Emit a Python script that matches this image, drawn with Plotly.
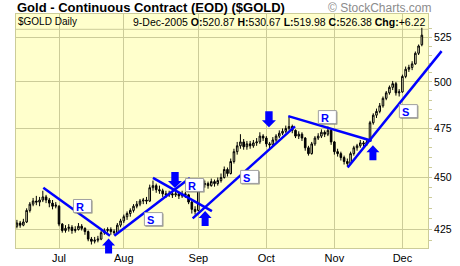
import numpy as np
import pandas as pd
import plotly.graph_objects as go

# ---------------- data ----------------
holidays = ['2005-07-04', '2005-09-05', '2005-11-24']
dates = [d.strftime('%Y-%m-%d') for d in pd.bdate_range('2005-06-14', '2005-12-09')
         if d.strftime('%Y-%m-%d') not in holidays]

opens = [426.5, 428, 427, 428.5, 434, 437, 438.5, 438, 439, 440.5,
         439, 437.5, 436, 436, 427.5, 424.5, 425.5, 426, 424.5, 425,
         426.5, 425.5, 424, 420.5, 419.5, 420, 420.5, 423.5, 424.5, 425,
         424, 423.5, 427, 429, 431, 432.5, 434, 436, 437, 438.5,
         439, 438.5, 445, 446, 444, 443.5, 442, 441.5, 442, 441.5,
         442, 441, 442, 441.5, 438, 434.5, 434, 445, 446.5, 447,
         446, 448, 447, 448.5, 450, 454, 452, 458, 463, 466,
         468, 465.5, 467, 466, 467.5, 468, 471, 470, 467, 466.5,
         469, 471, 472.5, 473.5, 475, 476, 474, 471, 472, 470,
         465, 462, 467, 470, 471, 473, 472, 474, 468, 463,
         462, 460, 458, 457, 462, 465, 466, 467.5, 467, 468.5,
         478, 482, 484, 487, 491, 494, 497, 499, 494, 494.5,
         503, 507, 508, 510, 516, 520.87]
highs = [429.5, 429, 430, 435, 438, 440, 441, 440.5, 443.5, 441.5,
         440, 439, 438, 436.5, 428, 427, 427.5, 427, 426.5, 428,
         427.5, 426, 424.5, 421.5, 421.5, 422, 424.5, 425.5, 426, 426,
         425, 428, 430, 432, 433.5, 435, 437, 438.5, 439.5, 440,
         440.5, 446.5, 448.5, 447, 446, 444.5, 443.5, 443.5, 443, 443.5,
         443, 443.5, 443, 442, 438.5, 436, 446, 448, 448.5, 448,
         449.5, 449, 450, 452, 455.5, 455, 459.5, 464.5, 468, 472,
         469.5, 468.5, 468.5, 469, 470, 473, 472, 471, 468, 470.5,
         472, 474, 475, 476.5, 481, 477, 474.5, 473.5, 473, 470.5,
         466, 468, 471, 472.5, 474.5, 474, 476, 474.5, 468.5, 464.5,
         463, 461, 459.5, 463, 466, 467, 469, 468.5, 469.5, 479,
         483, 485.5, 488.5, 492, 495, 498, 500.5, 500, 496, 504,
         508.5, 509.5, 511.5, 517, 521, 530.67]
lows = [425.5, 425.8, 426.5, 428, 433, 436, 436.5, 436, 438, 437.5,
        435.5, 434.5, 435, 426.5, 423.5, 423.5, 424, 423, 423.5, 424.5,
        424.5, 422.5, 419.5, 418, 418.5, 419, 420, 422.5, 423.5, 422.5,
        422.5, 423, 426, 428, 429.5, 431, 433, 435, 436, 437,
        437, 438, 443.5, 442.5, 442, 440.5, 440, 440.5, 440, 440.5,
        439.5, 440, 440, 437, 432.5, 432, 433.5, 443.5, 445, 444.5,
        445.5, 445.5, 446, 447.5, 449.5, 450.5, 451.5, 457, 461.5, 464.5,
        464, 464, 464.5, 465, 466, 467, 468.5, 465.5, 464.5, 466,
        468, 470, 471.5, 472.5, 474, 472.5, 470, 469.5, 468.5, 463.5,
        461, 461.5, 466, 469, 470, 470.5, 471, 466.5, 461.5, 460.5,
        458.5, 456.5, 455.5, 456.5, 461, 463.5, 465, 465.5, 466, 468,
        477, 480.5, 483, 486, 490, 493, 495.5, 492.5, 492, 494,
        502, 505.5, 506.5, 509.5, 515, 519.98]
closes = [428, 427, 428.5, 434, 437, 438.5, 438, 439, 440.5, 439,
          437.5, 436, 436.5, 427.5, 424.5, 425.5, 426, 424.5, 425, 426.5,
          425.5, 424, 420.5, 419.5, 420, 420.5, 423.5, 424.5, 425, 424,
          423.5, 427, 429, 431, 432.5, 434, 436, 437, 438.5, 439,
          438.5, 445, 446, 444, 443.5, 442, 441.5, 442, 441.5, 442,
          441, 442, 441.5, 438, 434.5, 433.5, 445, 446.5, 447, 446,
          448, 447, 448.5, 450, 454, 452, 458, 463, 466, 468,
          465.5, 467, 466, 467.5, 468, 471, 470, 467, 466.5, 469,
          471, 472.5, 473.5, 475, 476, 474, 471, 472, 470, 465,
          462, 467, 470, 471, 473, 472, 474, 468, 463, 462,
          460, 458, 457, 462, 465, 466, 467.5, 467, 468, 478,
          482, 484, 487, 491, 494, 497, 499, 494, 494.5, 503,
          507, 508, 510, 516, 520.16, 526.38]

month_ticks = ['2005-07-01', '2005-08-01', '2005-09-01', '2005-10-03', '2005-11-01', '2005-12-01']
month_labels = ['Jul', 'Aug', 'Sep', 'Oct', 'Nov', 'Dec']
price_ticks = [425, 450, 475, 500, 525]
minor_price_ticks = list(range(420, 535, 5))

# annotation layer (bar index, price)
trend_start_idx = [8.15, 30.06, 42.0, 54.26, 83.77, 102.1]
trend_start_px = [445.0, 422.1, 449.8, 430.2, 481.5, 455.0]
trend_end_idx = [28.73, 53.4, 60.2, 85.83, 109.5, 131.1]
trend_end_px = [422.1, 449.8, 433.7, 476.1, 468.6, 517.2]

arrow_idx = [28.3, 48.8, 58.1, 77.8, 109.9]
arrow_px = [420.8, 444.9, 433.7, 475.6, 466.3]
arrow_dir = ['up', 'down', 'up', 'down', 'up']

label_idx = [17.3, 39.2, 51.9, 68.9, 92.9, 117.9]
label_px = [439.5, 433.2, 449.8, 453.8, 484.7, 487.9]
label_txt = ['R', 'S', 'R', 'S', 'R', 'S']

# ---------------- style ----------------
BG = '#FFFFCC'
GRID = '#CCCC99'
BLUE = '#0000FF'
FONT = 'Liberation Sans, Arial, sans-serif'

XR = [-0.28, 126.9]
YR = [float(np.log10(416.4)), float(np.log10(538.8))]


def fx(i):
    return (i - XR[0]) / (XR[1] - XR[0])


def fy(p):
    return (np.log10(p) - YR[0]) / (YR[1] - YR[0])


def py(pix):  # pixel row -> paper y (plot area 14..248)
    return (248 - pix) / 234.0


def pxx(pix):  # pixel col -> paper x (plot area 16..428)
    return (pix - 16) / 412.0


fig = go.Figure()
fig.add_trace(go.Candlestick(
    x=dates, open=opens, high=highs, low=lows, close=closes,
    increasing=dict(line=dict(color='black', width=1), fillcolor=BG),
    decreasing=dict(line=dict(color='black', width=1), fillcolor='black'),
    whiskerwidth=0, hoverinfo='skip', showlegend=False))

shapes = []
# header strip inside the chart box
shapes.append(dict(type='rect', xref='paper', yref='paper', x0=0, x1=1, y0=py(29.3), y1=1,
                   fillcolor=BG, line=dict(width=0), layer='between'))
shapes.append(dict(type='line', xref='paper', yref='paper', x0=0, x1=1, y0=py(29.3), y1=py(29.3),
                   line=dict(color=GRID, width=1), layer='between'))

for a, b, c, d in zip(trend_start_idx, trend_start_px, trend_end_idx, trend_end_px):
    shapes.append(dict(type='line', xref='paper', yref='paper',
                       x0=fx(a), y0=fy(b), x1=fx(c), y1=fy(d),
                       line=dict(color=BLUE, width=2.5), layer='above'))

UP = 'M 0 0 L 6.5 -7 L 3.5 -7 L 3.5 -15 L -3.5 -15 L -3.5 -7 L -6.5 -7 Z'
DOWN = 'M 0 0 L 7 7 L 3.7 7 L 3.7 16 L -3.7 16 L -3.7 7 L -7 7 Z'
for i, p, d in zip(arrow_idx, arrow_px, arrow_dir):
    shapes.append(dict(type='path', xref='paper', yref='paper',
                       xsizemode='pixel', ysizemode='pixel',
                       xanchor=fx(i), yanchor=fy(p),
                       path=UP if d == 'up' else DOWN,
                       fillcolor=BLUE, line=dict(width=0), layer='above'))

annotations = []
for i, p, t in zip(label_idx, label_px, label_txt):
    shapes.append(dict(type='rect', xref='paper', yref='paper', xsizemode='pixel', ysizemode='pixel',
                       xanchor=fx(i), yanchor=fy(p), x0=1.5, x1=19.5, y0=-1.5, y1=-14.5,
                       fillcolor='#7a7a7a', line=dict(width=0), layer='above'))
    shapes.append(dict(type='rect', xref='paper', yref='paper', xsizemode='pixel', ysizemode='pixel',
                       xanchor=fx(i), yanchor=fy(p), x0=0.5, x1=18.5, y0=-0.5, y1=-13.5,
                       fillcolor='white', line=dict(color='#a0a0a0', width=1), layer='above'))
    annotations.append(dict(xref='paper', yref='paper', x=fx(i), y=fy(p), xanchor='left', yanchor='top',
                            xshift=1, yshift=0, showarrow=False, text='<b>%s</b>' % t,
                            font=dict(family=FONT, size=11, color=BLUE)))

# titles
annotations.append(dict(xref='paper', yref='paper', x=pxx(15), y=py(7.5), xanchor='left', yanchor='middle',
                        showarrow=False, text='<b>Gold - Continuous Contract (EOD) ($GOLD)</b>',
                        font=dict(family=FONT, size=13, color='black')))
annotations.append(dict(xref='paper', yref='paper', x=pxx(326), y=py(7.5), xanchor='left', yanchor='middle',
                        showarrow=False, text='© StockCharts.com',
                        font=dict(family=FONT, size=12, color='#8c8c8c')))
annotations.append(dict(xref='paper', yref='paper', x=pxx(16), y=py(21.5), xanchor='left', yanchor='middle',
                        showarrow=False, text='$GOLD Daily',
                        font=dict(family=FONT, size=10, color='black')))
chg = closes[-1] - closes[-2]
hdr = ('9-Dec-2005 <b>O:</b>%.2f <b>H:</b>%.2f <b>L:</b>%.2f <b>C:</b>%.2f <b>Chg:</b>%+.2f'
       % (opens[-1], highs[-1], lows[-1], closes[-1], chg))
annotations.append(dict(xref='paper', yref='paper', x=pxx(427), y=py(21.5), xanchor='right', yanchor='middle',
                        showarrow=False, text=hdr,
                        font=dict(family=FONT, size=10.5, color='black')))

fig.update_layout(
    width=460, height=266,
    margin=dict(l=16, r=32, t=14, b=18, autoexpand=False),
    paper_bgcolor='white', plot_bgcolor=BG,
    showlegend=False,
    font=dict(family=FONT, color='black'),
    shapes=shapes, annotations=annotations,
    xaxis=dict(type='category', range=XR, tickvals=month_ticks, ticktext=month_labels,
               showgrid=True, gridcolor=GRID, gridwidth=1, ticks='', showline=True,
               linecolor=GRID, mirror=True, zeroline=False,
               rangeslider=dict(visible=False), tickfont=dict(size=11, color='black'),
               fixedrange=True),
    yaxis=dict(type='log', range=YR, side='right', tickvals=price_ticks,
               ticktext=[str(v) for v in price_ticks],
               showgrid=True, gridcolor=GRID, gridwidth=1, ticks='outside', ticklen=3,
               tickcolor=GRID, showline=True, linecolor=GRID, mirror=True, zeroline=False,
               minor=dict(tickvals=minor_price_ticks, ticks='outside', ticklen=3,
                          tickcolor=GRID, showgrid=False),
               tickfont=dict(size=10.5, color='black'), fixedrange=True),
    yaxis2=dict(type='log', range=YR, overlaying='y', side='left', tickvals=minor_price_ticks,
                ticks='inside', ticklen=3, tickcolor=GRID, showticklabels=False,
                showgrid=False, showline=False, zeroline=False, fixedrange=True),
)

fig.write_html('out.html')
